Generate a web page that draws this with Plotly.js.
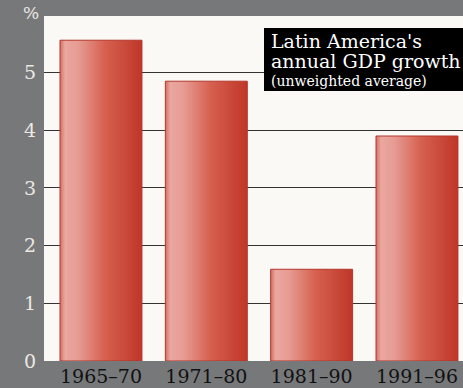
<!DOCTYPE html>
<html>
<head>
<meta charset="utf-8">
<script src="https://cdn.plot.ly/plotly-3.0.1.min.js"></script>
<style>
html,body{margin:0;padding:0;background:#77787a;overflow:hidden;}
#chart{width:463px;height:388px;}
</style>
</head>
<body>
<div id="chart"></div>
<script>
const categories = ["1965–70", "1971–80", "1981–90", "1991–96"];
const growth = [5.56, 4.85, 1.59, 3.9];
const yTicks = [0, 1, 2, 3, 4, 5];
const yTickLabels = ["0", "1", "2", "3", "4", "5"];
const unitLabel = "%";
const boxLines = ["Latin America's", "annual GDP growth"];
const boxNote = "(unweighted average)";

const serif = '"DejaVu Serif", "Liberation Serif", serif';

// plot area in pixels: left 44, top 16, width 419, height 345
function py(pix) { return (361 - pix) / 345; }
function px(pix) { return (pix - 44) / 419; }

const data = [{
  type: "bar",
  x: categories,
  y: growth,
  marker: {color: "#cc4b3f", line: {color: "#b3362b", width: 1}},
  hoverinfo: "skip"
}];

const annotations = [
  {text: unitLabel, xref: "paper", yref: "paper", x: px(31), y: py(13),
   xanchor: "center", yanchor: "middle", showarrow: false,
   font: {family: serif, size: 17, color: "#ece8e2"}},
  {text: boxLines[0], xref: "paper", yref: "paper", x: px(269), y: py(41),
   xanchor: "left", yanchor: "middle", showarrow: false,
   font: {family: serif, size: 19, color: "#fff"}},
  {text: boxLines[1], xref: "paper", yref: "paper", x: px(269), y: py(61),
   xanchor: "left", yanchor: "middle", showarrow: false,
   font: {family: serif, size: 19, color: "#fff"}},
  {text: boxNote, xref: "paper", yref: "paper", x: px(269), y: py(80.5),
   xanchor: "left", yanchor: "middle", showarrow: false,
   font: {family: serif, size: 14, color: "#fff"}}
];

const layout = {
  width: 463, height: 388,
  margin: {l: 44, r: 0, t: 16, b: 27, pad: 0},
  paper_bgcolor: "#77787a",
  plot_bgcolor: "#fbf9f6",
  bargap: 0.222,
  showlegend: false,
  xaxis: {
    type: "category",
    range: [-0.541, 3.437],
    showgrid: false, zeroline: false, showline: false, ticks: "",
    tickfont: {family: serif, size: 19, color: "#111"},
    ticklabelstandoff: 2,
    fixedrange: true
  },
  yaxis: {
    range: [0, 5.98],
    tickvals: yTicks, ticktext: yTickLabels,
    showgrid: true, gridcolor: "#333333", gridwidth: 1,
    zeroline: false, showline: false, ticks: "",
    tickfont: {family: serif, size: 19, color: "#ece8e2"},
    ticklabelstandoff: 7,
    fixedrange: true
  },
  shapes: [
    {type: "rect", xref: "paper", yref: "paper",
     x0: px(264), x1: 1.01, y0: py(91), y1: py(28),
     fillcolor: "#000", line: {width: 0}, layer: "above"}
  ],
  annotations: annotations
};

Plotly.newPlot("chart", data, layout, {staticPlot: true, displayModeBar: false}).then(function(gd){
  const svg = gd.querySelector("svg.main-svg");
  const NS = "http://www.w3.org/2000/svg";
  let defs = svg.querySelector("defs");
  if (!defs) { defs = document.createElementNS(NS, "defs"); svg.insertBefore(defs, svg.firstChild); }
  const grad = document.createElementNS(NS, "linearGradient");
  grad.setAttribute("id", "barGrad");
  grad.setAttribute("x1", "0"); grad.setAttribute("y1", "0");
  grad.setAttribute("x2", "1"); grad.setAttribute("y2", "0");
  [["0", "#d46e63"], ["0.06", "#eaa7a0"], ["0.22", "#e69c94"], ["0.55", "#d6604f"], ["1", "#bf3628"]].forEach(function(s){
    const st = document.createElementNS(NS, "stop");
    st.setAttribute("offset", s[0]); st.setAttribute("stop-color", s[1]);
    grad.appendChild(st);
  });
  defs.appendChild(grad);
  gd.querySelectorAll(".bars .point path").forEach(function(p){
    p.style.fill = "url(#barGrad)";
  });
});
</script>
</body>
</html>
